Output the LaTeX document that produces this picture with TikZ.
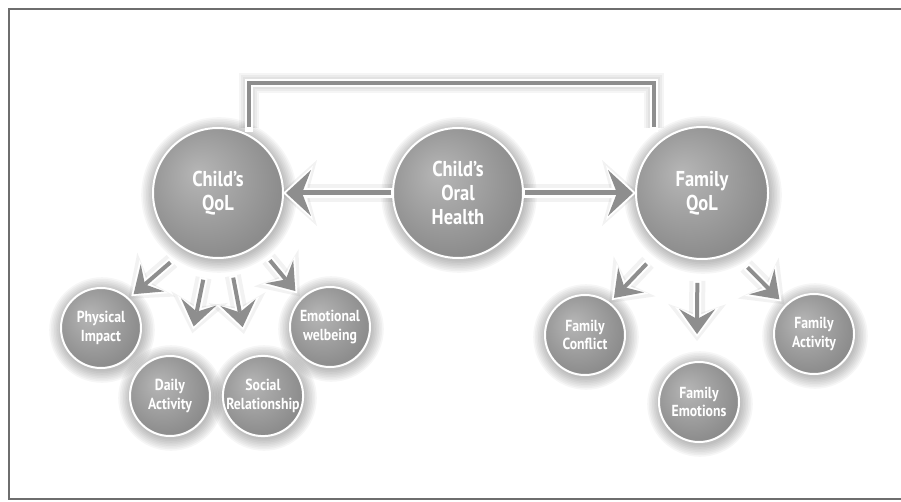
\documentclass[tikz,border=0pt]{standalone}
\usepackage{fontspec}
\newfontfamily\bubfont[FakeStretch=0.86]{PT Sans}
\usetikzlibrary{arrows.meta,backgrounds}
\definecolor{bubhi}{HTML}{B6B6B6}
\definecolor{bublo}{HTML}{8C8C8C}
\definecolor{cgray}{HTML}{8E8E8E}
\definecolor{framec}{HTML}{6E6E6E}
\pgfdeclareradialshading{bubshade}{\pgfpoint{-8bp}{8bp}}{color(0bp)=(bubhi); color(28bp)=(bublo); color(50bp)=(bublo)}
\begin{document}
\begin{tikzpicture}[x=1pt,y=1pt,
  big/.style={circle, draw=white, line width=2pt, shading=bubshade, inner sep=0pt, outer sep=0pt,
    minimum size=130pt, text=white, align=center,
    font=\bubfont\bfseries\fontsize{21.5}{24}\selectfont},
  small/.style={big, minimum size=80pt, font=\bubfont\bfseries\fontsize{16}{18.5}\selectfont},
  wsmall/.style={draw=white, line width=8pt, -{Stealth[length=30pt,width=44pt,inset=9pt,line width=0pt]}},
  gsmall/.style={draw=cgray, line width=4pt, -{Stealth[length=25pt,width=36pt,inset=10pt,line width=0pt]}},
  glowsmall/.style={draw=black, opacity=0.05, line width=16pt, -{Stealth[length=37pt,width=58pt,inset=10pt,line width=0pt]}},
  wbig/.style={draw=white, line width=10pt, -{Stealth[length=30pt,width=54pt,inset=8pt,line width=0pt]}},
  gbig/.style={draw=cgray, line width=5pt, -{Stealth[length=25pt,width=46pt,inset=9pt,line width=0pt]}},
  glowbig/.style={draw=black, opacity=0.05, line width=18pt, -{Stealth[length=37pt,width=66pt,inset=9pt,line width=0pt]}},
]
\useasboundingbox (0,0) rectangle (901,501);

% frame
\draw[framec, line width=1.3pt] (901,492) -- (9,492) -- (9,2) -- (901,2);

% main circles
\node[big] (cq) at (218,308) {Child’s\\QoL};
\node[big] (oh) at (458,308) {Child’s\\Oral\\Health};
\node[big, minimum size=132pt] (fq) at (702,308) {Family\\QoL};

% small circles
\node[small] (pi) at (101,173) {Physical\\Impact};
\node[small] (da) at (170,105) {Daily\\Activity};
\node[small] (sr) at (263,105) {Social\\Relationship};
\node[small] (ew) at (330,174) {Emotional\\welbeing};
\node[small] (fc) at (585,166) {Family\\Conflict};
\node[small] (fe) at (699,99) {Family\\Emotions};
\node[small] (fa) at (814,167) {Family\\Activity};

\coordinate (b1) at (249,373);
\coordinate (b2) at (654,373);

\begin{scope}[on background layer]
  % soft shadows of the circles
  \foreach \n/\r in {cq/65,oh/65,fq/66,pi/40,da/40,sr/40,ew/40,fc/40,fe/40,fa/40}{
    \foreach \k in {1,...,8}{
      \fill[black, opacity=0.035] ([shift={(1pt,-2pt)}]\n.center) circle[radius={\r+\k*1.6}];
    }
  }
  % bracket
  \foreach \w in {12,16,20}{
    \draw[black, opacity=0.04, line width=\w pt, line join=miter, shift={(1pt,-2pt)}] (b1) -- ++(0,45) -| (b2);
  }
  \draw[white, line width=8pt, line cap=rect, line join=miter] (b1) -- ++(0,45) -| (b2);
  \draw[cgray, line width=4pt, line join=miter, shorten <=1pt, shorten >=1pt] (b1) -- ++(0,45) -| (b2);

  % big arrows
  \foreach \a/\b in {oh.west/cq.east, oh.east/fq.west}{
    \draw[glowbig, shift={(1pt,-2pt)}, shorten >=-3pt] (\a) -- (\b);
    \draw[wbig] (\a) -- (\b);
    \draw[gbig, shorten <=2pt, shorten >=3pt] (\a) -- (\b);
  }

  % small arrows
  \foreach \a/\b/\s/\e in {cq.-120/pi.47/20/4, cq.-99/da.65/23/31, cq.-80/sr.111/21/29, cq.-53/ew.135/20/7,
                           fq.-126/fc.53/24/4, fq.-94/fe.93/24/25, fq.-63/fa.135/22/6}{
    \pgfmathsetmacro\sw{\s-2}
    \pgfmathsetmacro\sg{\s}
    \pgfmathsetmacro\eg{\e+3}
    \pgfmathsetmacro\eh{\e-4}
    \draw[glowsmall, shift={(1pt,-2pt)}, shorten <=\sw pt, shorten >=\eh pt] (\a) -- (\b);
    \draw[wsmall, shorten <=\sw pt, shorten >=\e pt] (\a) -- (\b);
    \draw[gsmall, shorten <=\sg pt, shorten >=\eg pt] (\a) -- (\b);
  }
\end{scope}
\end{tikzpicture}
\end{document}
